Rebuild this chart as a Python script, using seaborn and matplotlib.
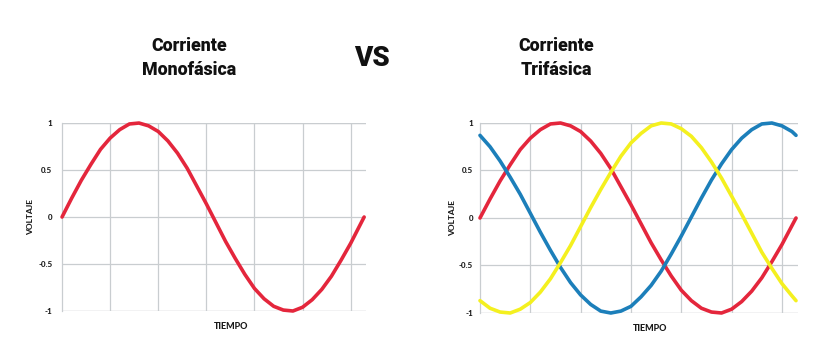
import numpy as np
import pandas as pd
import matplotlib.pyplot as plt
import seaborn as sns

# eje de tiempo (radianes) y voltajes
tiempo = [0.0, 0.2, 0.4, 0.6, 0.8, 1.0, 1.2, 1.4, 1.6, 1.8, 2.0, 2.2, 2.4, 2.6, 2.8, 3.0,
          3.2, 3.4, 3.6, 3.8, 4.0, 4.2, 4.4, 4.6, 4.8, 5.0, 5.2, 5.4, 5.6, 5.8, 6.0, 6.2, 6.28]

fase_roja = [0.00, 0.20, 0.39, 0.56, 0.72, 0.84, 0.93, 0.99, 1.00, 0.97, 0.91, 0.81, 0.68, 0.52, 0.33, 0.14,
             -0.06, -0.26, -0.44, -0.61, -0.76, -0.87, -0.95, -0.99, -1.00, -0.96, -0.88, -0.77, -0.63, -0.46, -0.28, -0.08, 0.00]

fase_azul = [0.87, 0.75, 0.60, 0.43, 0.25, 0.05, -0.15, -0.34, -0.52, -0.68, -0.81, -0.91, -0.98, -1.00, -0.98, -0.93,
             -0.83, -0.71, -0.56, -0.38, -0.19, 0.01, 0.21, 0.40, 0.57, 0.72, 0.84, 0.93, 0.99, 1.00, 0.97, 0.91, 0.87]

fase_amarilla = [-0.87, -0.95, -0.99, -1.00, -0.96, -0.89, -0.78, -0.64, -0.47, -0.29, -0.09, 0.11, 0.30, 0.48, 0.65, 0.79,
                 0.89, 0.97, 1.00, 0.99, 0.94, 0.86, 0.74, 0.59, 0.42, 0.23, 0.04, -0.16, -0.36, -0.53, -0.69, -0.82, -0.87]

y_ticks = [1, 0.5, 0, -0.5, -1]
y_labels = ["1", "0.5", "0", "-0.5", "-1"]
x_grid = [1, 2, 3, 4, 5, 6]

ROJO = '#e4263c'
AZUL = '#1c7fba'
AMARILLO = '#f4f01f'
GRIS = '#c9cdd0'
TEXTO = '#1a1a1a'

sns.set_theme(style='white')
plt.rcParams['font.family'] = ['Lato', 'DejaVu Sans']

fig = plt.figure(figsize=(8.25, 3.56), dpi=100)
ax1 = fig.add_axes([0.0752, 0.1264, 0.3685, 0.528])
ax2 = fig.add_axes([0.5818, 0.1208, 0.3855, 0.5337])

df_mono = pd.DataFrame({'tiempo': tiempo, 'voltaje': fase_roja})
df_tri = pd.DataFrame({
    'tiempo': tiempo * 3,
    'voltaje': fase_roja + fase_azul + fase_amarilla,
    'fase': ['R'] * len(tiempo) + ['A'] * len(tiempo) + ['Y'] * len(tiempo),
})

sns.lineplot(data=df_mono, x='tiempo', y='voltaje', color=ROJO, linewidth=2.6,
             ax=ax1, clip_on=False, zorder=3)
sns.lineplot(data=df_tri, x='tiempo', y='voltaje', hue='fase',
             palette={'R': ROJO, 'A': AZUL, 'Y': AMARILLO}, linewidth=2.6,
             ax=ax2, legend=False, clip_on=False, zorder=3)

# (eje, pad etiquetas, labelpad ylabel, posición x de TIEMPO)
ajustes = [(ax1, 7, 3, 0.555), (ax2, 5, 2, 0.535)]
for ax, pad, lpad, xlab_x in ajustes:
    ax.set_xlim(0, 6.32)
    ax.set_ylim(-1, 1)
    ax.set_yticks(y_ticks)
    ax.set_yticklabels(y_labels, fontsize=5.8, fontweight='black', color=TEXTO)
    ax.set_xticks(x_grid)
    ax.set_xticklabels([])
    ax.tick_params(length=0, pad=pad)
    ax.grid(True, color=GRIS, linewidth=0.9)
    for s in ['top', 'right', 'bottom']:
        ax.spines[s].set_visible(False)
    ax.spines['left'].set_color(GRIS)
    ax.spines['left'].set_linewidth(0.9)
    ax.axhline(-1, color=GRIS, linewidth=0.9, zorder=1)
    ax.axhline(1, color=GRIS, linewidth=0.9, zorder=1)
    ax.set_ylabel('VOLTAJE', fontsize=6, fontweight='black', color=TEXTO, labelpad=lpad)
    ax.set_xlabel('TIEMPO', fontsize=6.5, fontweight='black', color=TEXTO)
    ax.xaxis.set_label_coords(xlab_x, -0.06)

# títulos con una letra más gruesa
titulo = dict(ha='center', va='center', color='#111111',
              family=['Roboto', 'DejaVu Sans'], fontweight=900)
fig.text(189 / 825, 1 - 58 / 356, 'Corriente\nMonofásica', fontsize=12.8, linespacing=1.4, **titulo)
fig.text(556 / 825, 1 - 58 / 356, 'Corriente\nTrifásica', fontsize=12.8, linespacing=1.4, **titulo)
fig.text(372 / 825, 1 - 58 / 356, 'VS', fontsize=20, **titulo)

fig.savefig('out.png', dpi=100, facecolor='white')
